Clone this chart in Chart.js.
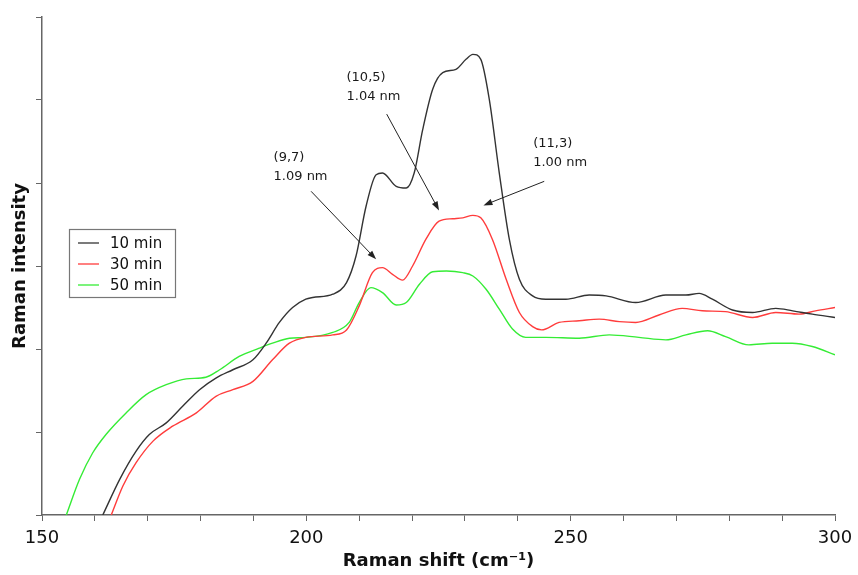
<!DOCTYPE html>
<html>
<head>
<meta charset="utf-8">
<title>Raman spectra</title>
<script src="https://cdn.jsdelivr.net/npm/chart.js@4.4.1/dist/chart.umd.min.js"></script>
<style>
  html, body { margin: 0; padding: 0; background: #fff; }
</style>
</head>
<body>
<canvas id="ramanChart" width="858" height="575"></canvas>
<script>
// Raman shift (cm-1) and intensity (arb. units) for each growth time
const shift10 = [161.5, 164.7, 167.8, 170.3, 173.5, 176.6, 179.8, 182.9, 186.1, 189.9, 192.4, 194.9, 197.4, 199.9,
  201.2, 205.0, 207.6, 209.4, 211.3, 213.2, 214.4, 217.0, 218.9, 220.4, 222.0, 223.9, 225.8, 228.3, 230.2, 231.5,
  233.0, 234.6, 236.5, 238.4, 240.3, 242.8, 245.3, 249.1, 253.5, 256.7, 262.3, 268.0, 271.8, 274.3, 276.8, 280.6,
  284.4, 288.8, 292.0, 295.7, 300.0];
const int10 = [0, 0.43, 0.77, 0.97, 1.11, 1.31, 1.51, 1.65, 1.75, 1.87, 2.07, 2.32, 2.50, 2.60,
  2.62, 2.66, 2.80, 3.12, 3.72, 4.10, 4.12, 3.96, 3.94, 4.12, 4.64, 5.13, 5.33, 5.37, 5.49, 5.55,
  5.49, 5.01, 4.12, 3.32, 2.84, 2.64, 2.60, 2.60, 2.65, 2.64, 2.56, 2.65, 2.65, 2.67, 2.60, 2.47,
  2.44, 2.49, 2.46, 2.42, 2.38];

const shift30 = [163.1, 165.3, 167.8, 171.0, 174.7, 179.2, 182.9, 186.1, 189.9, 193.6, 196.8, 199.9,
  205.0, 207.6, 210.0, 212.5, 214.4, 216.3, 218.2, 220.1, 222.6, 225.1, 227.7, 229.6, 231.5, 233.0,
  235.2, 237.8, 240.3, 242.8, 244.5, 247.8, 251.6, 255.4, 259.2, 262.3, 266.7, 271.1, 274.9, 279.3,
  284.4, 288.8, 293.2, 296.3, 300.0];
const int30 = [0, 0.35, 0.63, 0.89, 1.07, 1.23, 1.43, 1.51, 1.61, 1.87, 2.07, 2.14,
  2.17, 2.23, 2.52, 2.92, 2.98, 2.90, 2.83, 3.00, 3.32, 3.54, 3.57, 3.58, 3.61, 3.58,
  3.32, 2.84, 2.44, 2.27, 2.23, 2.32, 2.34, 2.36, 2.33, 2.32, 2.41, 2.49, 2.46, 2.45,
  2.38, 2.44, 2.42, 2.46, 2.50];

const shift50 = [154.6, 157.1, 159.6, 162.1, 165.9, 169.7, 173.5, 177.3, 181.0, 183.6, 187.3, 191.1, 193.6,
  196.8, 199.9, 205.0, 208.1, 210.0, 212.2, 214.4, 217.0, 218.9, 221.4, 223.9, 226.5, 229.6, 231.5,
  234.0, 236.5, 239.0, 241.5, 245.3, 251.6, 257.3, 262.9, 268.0, 271.8, 275.9, 279.3, 283.7, 288.1,
  291.9, 295.7, 300.0];
const int50 = [0, 0.43, 0.75, 0.97, 1.23, 1.45, 1.57, 1.64, 1.66, 1.75, 1.91, 2.01, 2.07,
  2.13, 2.14, 2.20, 2.32, 2.56, 2.74, 2.68, 2.53, 2.56, 2.78, 2.93, 2.94, 2.92, 2.88,
  2.72, 2.48, 2.24, 2.14, 2.14, 2.13, 2.17, 2.14, 2.11, 2.17, 2.22, 2.15, 2.05, 2.07,
  2.07, 2.03, 1.93];

const seriesLabels = ["10 min", "30 min", "50 min"];
const xTickLabels = [150, 200, 250, 300];

// peak assignments (chirality, diameter)
const peakNames = ["(9,7)", "(10,5)", "(11,3)"];
const peakDiameters = ["1.09 nm", "1.04 nm", "1.00 nm"];

function toPoints(xs, ys) {
    return xs.map((x, i) => ({ x: x, y: ys[i] }));
}

// text anchor + arrow (start -> tip), all in data units
const notes = [
    { text: [193.8, 4.31], from: [200.9, 3.90], to: [213.2, 3.08] },
    { text: [207.6, 5.27], from: [215.2, 4.83], to: [225.1, 3.67] },
    { text: [242.9, 4.48], from: [245.0, 4.02], to: [233.5, 3.73] }
];

const peakNotes = {
    id: "peakNotes",
    afterDatasetsDraw(chart) {
        const c = chart.ctx;
        const xs = chart.scales.x, ys = chart.scales.y;
        c.save();
        c.font = "13px 'DejaVu Sans'";
        c.fillStyle = "#1a1a1a";
        c.textBaseline = "middle";
        notes.forEach((n, i) => {
            const tx = xs.getPixelForValue(n.text[0]);
            const ty = ys.getPixelForValue(n.text[1]);
            c.fillText(peakNames[i], tx, ty);
            c.fillText(peakDiameters[i], tx, ty + 19);

            const x1 = xs.getPixelForValue(n.from[0]), y1 = ys.getPixelForValue(n.from[1]);
            const x2 = xs.getPixelForValue(n.to[0]), y2 = ys.getPixelForValue(n.to[1]);
            const ang = Math.atan2(y2 - y1, x2 - x1);
            const head = 9;
            c.strokeStyle = "#222";
            c.lineWidth = 1;
            c.beginPath();
            c.moveTo(x1, y1);
            c.lineTo(x2 - Math.cos(ang) * head * 0.8, y2 - Math.sin(ang) * head * 0.8);
            c.stroke();
            c.beginPath();
            c.moveTo(x2, y2);
            c.lineTo(x2 - head * Math.cos(ang) + 3.2 * Math.sin(ang), y2 - head * Math.sin(ang) - 3.2 * Math.cos(ang));
            c.lineTo(x2 - head * Math.cos(ang) - 3.2 * Math.sin(ang), y2 - head * Math.sin(ang) + 3.2 * Math.cos(ang));
            c.closePath();
            c.fillStyle = "#222";
            c.fill();
            c.fillStyle = "#1a1a1a";
        });
        c.restore();
    }
};

// boxed legend sitting inside the plot
const boxLegend = {
    id: "boxLegend",
    afterDraw(chart) {
        const c = chart.ctx;
        const left = 69, top = 229, w = 106, h = 68;
        c.save();
        c.fillStyle = "#fff";
        c.fillRect(left, top, w, h);
        c.strokeStyle = "#777";
        c.lineWidth = 1.2;
        c.strokeRect(left + 0.5, top + 0.5, w, h);
        c.font = "15px 'DejaVu Sans'";
        c.textBaseline = "middle";
        chart.data.datasets.forEach((ds, i) => {
            const y = top + 14 + i * 21;
            c.strokeStyle = ds.borderColor;
            c.lineWidth = 1.3;
            c.beginPath();
            c.moveTo(left + 9, y);
            c.lineTo(left + 30, y);
            c.stroke();
            c.fillStyle = "#111";
            c.fillText(ds.label, left + 41, y + 1);
        });
        c.restore();
    }
};

const axisColor = "#666";
const ctx = document.getElementById("ramanChart").getContext("2d");
new Chart(ctx, {
    type: "line",
    data: {
        datasets: [
            { label: seriesLabels[0], data: toPoints(shift10, int10), borderColor: "#333333" },
            { label: seriesLabels[1], data: toPoints(shift30, int30), borderColor: "#ff3c3c" },
            { label: seriesLabels[2], data: toPoints(shift50, int50), borderColor: "#35ec35" }
        ]
    },
    options: {
        responsive: false,
        animation: false,
        layout: { padding: { top: 17, right: 23, left: 0, bottom: 0 } },
        elements: {
            point: { radius: 0 },
            line: { borderWidth: 1.4, cubicInterpolationMode: "monotone", fill: false }
        },
        plugins: {
            legend: { display: false },
            tooltip: { enabled: false }
        },
        scales: {
            x: {
                type: "linear",
                min: 150,
                max: 300,
                ticks: {
                    stepSize: 10,
                    autoSkip: false,
                    maxRotation: 0,
                    padding: 3,
                    color: "#111",
                    font: { family: "'DejaVu Sans'", size: 18, lineHeight: 1.6 },
                    callback: v => xTickLabels.includes(v) ? String(v) : ""
                },
                grid: { drawOnChartArea: false, drawTicks: true, tickLength: 6, color: axisColor, lineWidth: 1 },
                border: { color: axisColor, width: 1.5 },
                title: {
                    display: true,
                    text: "Raman shift (cm\u207B\u00B9)",
                    color: "#111",
                    font: { family: "'DejaVu Sans'", size: 18, weight: "bold" },
                    padding: { top: 0, bottom: 3 }
                },
                afterFit: s => { s.height = 60; }
            },
            y: {
                min: 0,
                max: 6,
                ticks: { stepSize: 1, padding: 0, callback: () => "" },
                grid: { drawOnChartArea: false, drawTicks: true, tickLength: 6, color: axisColor, lineWidth: 1 },
                border: { color: axisColor, width: 1.5 },
                title: {
                    display: true,
                    text: "Raman intensity",
                    color: "#111",
                    font: { family: "'DejaVu Sans'", size: 18, weight: "bold" },
                    padding: { top: 10, bottom: 0 }
                },
                afterFit: s => { s.width = 42; }
            }
        }
    },
    plugins: [peakNotes, boxLegend]
});
</script>
</body>
</html>
